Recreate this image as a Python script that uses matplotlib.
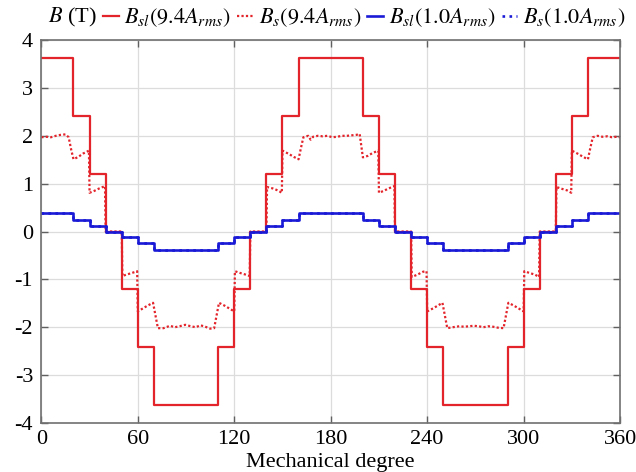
import matplotlib
matplotlib.use("Agg")
import numpy as np
from matplotlib import pyplot as plt

# step edges (mechanical degree) shared by the stepped curves
edges = [0, 20, 30, 40, 50, 60, 70, 110, 120, 130, 140, 150, 160, 200,
         210, 220, 230, 240, 250, 290, 300, 310, 320, 330, 340, 360]

# B_sl at 9.4 A_rms (solid red)
bsl_94 = [3.63, 2.42, 1.21, 0, -1.21, -2.42, -3.63, -2.42, -1.21, 0, 1.21, 2.42, 3.63,
          2.42, 1.21, 0, -1.21, -2.42, -3.63, -2.42, -1.21, 0, 1.21, 2.42, 3.63, 3.63]

# B_sl at 1.0 A_rms (solid blue), B_s at 1.0 A_rms is read as the same
bsl_10 = [0.38, 0.25, 0.125, 0, -0.125, -0.25, -0.38, -0.25, -0.125, 0, 0.125, 0.25, 0.38,
          0.25, 0.125, 0, -0.125, -0.25, -0.38, -0.25, -0.125, 0, 0.125, 0.25, 0.38, 0.38]
bs_10 = list(bsl_10)

# B_s at 9.4 A_rms (dotted red), read point by point
bs_94_deg = [0, 3, 6, 9, 12, 15, 17, 18.5, 20, 23, 26, 29.6, 30, 33, 36, 39.6, 40, 50,
             50.4, 53, 56, 59.6, 60, 63, 66, 69.5, 71, 72.5, 76, 80, 83, 86, 89.5, 93,
             96, 99, 102, 105, 107.5, 109, 110.5, 114, 117, 120, 120.4, 124, 127, 129.6,
             130, 140, 140.4, 144, 147, 149.6, 150, 154, 157, 160, 161.5, 163, 166, 167.5,
             169, 172, 175, 178, 181, 184, 187, 190, 193, 196, 198, 199, 200, 203, 206,
             209.6, 210, 213, 216, 219.6, 220, 230, 230.4, 234, 237.5, 239.6, 240, 244,
             247, 249.5, 251, 252.5, 256, 260, 263, 266, 269, 272, 275, 278, 281, 284,
             287.5, 289, 290.5, 294, 297, 300, 300.4, 304, 307, 309.6, 310, 320, 320.4,
             324, 327, 329.6, 330, 334, 337, 340, 341.5, 343, 346, 349, 352, 355, 358, 360]
bs_94 = [1.97, 1.98, 1.97, 2.0, 2.02, 2.03, 1.97, 1.72, 1.51, 1.56, 1.63, 1.69, 0.81, 0.85,
         0.9, 0.95, 0.0, 0.0,
         -0.93, -0.9, -0.87, -0.83, -1.67, -1.61, -1.55, -1.49, -1.75, -2.02, -2.02, -1.97,
         -2.0, -1.98, -1.95, -1.98, -2.0, -1.96, -1.99, -2.03, -2.02, -1.75, -1.49, -1.55,
         -1.61, -1.67, -0.83, -0.87, -0.9, -0.93,
         0.0, 0.0, 0.93, 0.9, 0.86, 0.81, 1.69, 1.62, 1.56, 1.51, 1.75, 1.97, 2.0, 1.92,
         1.98, 2.0, 1.99, 2.0, 1.97, 1.98, 2.0, 2.0, 2.01, 2.02, 2.04, 1.8, 1.55, 1.58, 1.64,
         1.69, 0.81, 0.85, 0.9, 0.95, 0.0, 0.0, -0.95, -0.9, -0.84, -0.83, -1.67, -1.6,
         -1.54, -1.49, -1.75, -2.02, -2.0, -1.98, -1.99, -1.98, -1.97, -1.98, -2.0, -1.98,
         -1.99, -2.01, -2.02, -1.75, -1.49, -1.55, -1.61, -1.67, -0.83, -0.87, -0.9, -0.95,
         0.0, 0.0, 0.93, 0.89, 0.86, 0.81, 1.69, 1.62, 1.56, 1.51, 1.75, 1.97, 2.0, 1.98,
         1.99, 1.97, 1.98, 1.97]

x_ticks = [0, 60, 120, 180, 240, 300, 360]
y_ticks = [-4, -3, -2, -1, 0, 1, 2, 3, 4]

plt.rcParams['font.family'] = ['Liberation Serif', 'DejaVu Serif']
plt.rcParams['mathtext.fontset'] = 'stix'
plt.rcParams['axes.unicode_minus'] = False

red = '#e3242b'
blue = '#1a1ad6'

fig = plt.figure(figsize=(6.36, 4.72), dpi=100)
ax = fig.add_axes([0.065, 0.104, 0.91, 0.811])

ax.step(edges, bsl_94, where='post', color=red, lw=1.6, label=r'$B_{sl}(9.4A_{rms})$')
ax.plot(bs_94_deg, bs_94, color=red, lw=1.6, ls=(0, (1, 1)), label=r'$B_{s}(9.4A_{rms})$')
ax.step(edges, bsl_10, where='post', color=blue, lw=1.9, label=r'$B_{sl}(1.0A_{rms})$')
ax.step(edges, bs_10, where='post', color=blue, lw=1.9, ls=':', label=r'$B_{s}(1.0A_{rms})$')

ax.set_xlim(0, 360)
ax.set_ylim(-4, 4)
ax.set_xticks(x_ticks)
ax.set_yticks(y_ticks)
ax.grid(True, color='#dcdcdc', lw=0.9)
ax.set_axisbelow(True)
ax.tick_params(direction='in', top=True, right=True, length=5, width=1,
               color='#606060', labelsize=16)
ax.tick_params(axis='x', pad=5)
ax.tick_params(axis='y', pad=6)
for s in ax.spines.values():
    s.set_color('#707070')
    s.set_linewidth(1.2)

ax.set_xlabel('Mechanical degree', fontsize=16, labelpad=3)
fig.text(0.075, 0.962, r'$B$ (T)', fontsize=16, ha='left', va='center')

fig.legend(loc='center left', bbox_to_anchor=(0.162, 0.962), ncol=4, frameon=False,
           fontsize=16, handlelength=0.7, handletextpad=0.25, columnspacing=0.3,
           borderaxespad=0, borderpad=0)

fig.savefig('out.png', dpi=100)
